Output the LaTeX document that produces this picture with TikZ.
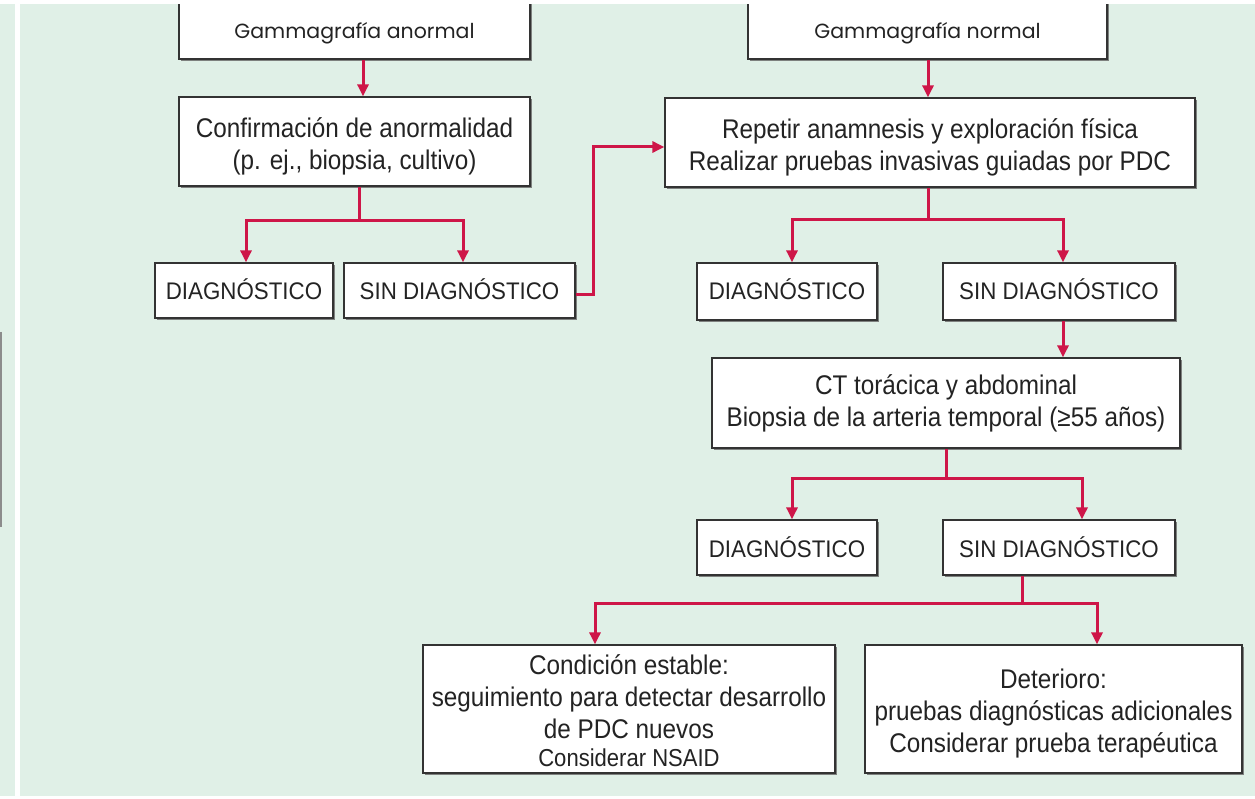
\documentclass[tikz,border=0pt]{standalone}
\usepackage{fontspec}
\setmainfont{Liberation Sans}
\newfontfamily\narrow[FakeStretch=0.9]{Liberation Sans}
\newfontfamily\narrowc[FakeStretch=0.93]{Liberation Sans}
\newfontfamily\geo{Poppins}
\usetikzlibrary{arrows.meta,shadows,calc}
\definecolor{bgg}{RGB}{224,240,231}
\definecolor{crim}{RGB}{206,22,72}
\definecolor{txt}{RGB}{35,35,35}
\newcommand\dnshift[2]{\raisebox{-#1}[\height][\depth]{\begin{tabular}{@{}c@{}}#2\end{tabular}}}
\tikzset{
  box/.style={draw=black!80, line width=1.3pt, fill=white, inner sep=0pt, align=center, text=txt,
    drop shadow={shadow xshift=2pt, shadow yshift=-2.2pt, fill=black!60, opacity=0.8}},
  lc/.style={font=\narrow\fontsize{27}{32}\selectfont},
  cp/.style={font=\narrowc\fontsize{24}{28}\selectfont},
  gf/.style={font=\geo\fontsize{20.5}{24}\selectfont},
  wire/.style={draw=crim, line width=3pt},
  conn/.style={wire, -{Triangle[length=12pt,width=11pt]}},
}
\begin{document}
\begin{tikzpicture}[x=1pt,y=-1pt]
\useasboundingbox (0,0) rectangle (1255,799);
\clip (0,0) rectangle (1255,799);
% background
\fill[bgg] (0,0) rectangle (1255,799);
\fill[white] (15,0) rectangle (20,799);
\draw[black!45, line width=1.5pt] (1,332) -- (1,527);

% nodes
\node[box, gf, minimum width=351pt, minimum height=57pt] (g1) at (354.5,30.5) {\dnshift{3pt}{Gammagrafía anormal}};
\node[box, lc, minimum width=351pt, minimum height=89pt] (conf) at (354.5,141.5) {\dnshift{6pt}{Confirmación de anormalidad\\(p. ej., biopsia, cultivo)}};
\node[box, cp, minimum width=178pt, minimum height=55pt] (d1) at (244,290.5) {\dnshift{3pt}{DIAGNÓSTICO}};
\node[box, cp, minimum width=231pt, minimum height=55pt] (s1) at (459.5,290.5) {\dnshift{3pt}{SIN DIAGNÓSTICO}};

\node[box, gf, minimum width=359pt, minimum height=57pt] (g2) at (927.5,30.5) {\dnshift{3pt}{Gammagrafía normal}};
\node[box, lc, minimum width=530pt, minimum height=89pt] (rep) at (930,142.5) {\dnshift{6pt}{Repetir anamnesis y exploración física\\Realizar pruebas invasivas guiadas por PDC}};
\node[box, cp, minimum width=180pt, minimum height=57pt] (d2) at (787,291.5) {\dnshift{2pt}{DIAGNÓSTICO}};
\node[box, cp, minimum width=232pt, minimum height=57pt] (s2) at (1059,291.5) {\dnshift{2pt}{SIN DIAGNÓSTICO}};
\node[box, lc, minimum width=468pt, minimum height=90pt] (ct) at (946,403) {\dnshift{1pt}{CT torácica y abdominal\\Biopsia de la arteria temporal (≥55 años)}};
\node[box, cp, minimum width=180pt, minimum height=55pt] (d3) at (787,547.5) {DIAGNÓSTICO};
\node[box, cp, minimum width=232pt, minimum height=55pt] (s3) at (1059,547.5) {SIN DIAGNÓSTICO};
\node[box, lc, minimum width=412pt, minimum height=128pt] (cond) at (629,709) {\dnshift{5pt}{Condición estable:\\seguimiento para detectar desarrollo\\de PDC nuevos\\[-4pt]{\fontsize{24.5}{28}\selectfont Considerar NSAID}}};
\node[box, lc, minimum width=377pt, minimum height=128pt] (det) at (1053.5,709) {\dnshift{5pt}{Deterioro:\\pruebas diagnósticas adicionales\\Considerar prueba terapéutica}};

% white bands (hide the top border of the first boxes)
\fill[white] (0,0) rectangle (1255,4.5);
\fill[white] (0,795.5) rectangle (1255,799);

% connectors
\draw[conn] (g1.south -| 363,0) -- (conf.north -| 363,0);
\coordinate (j1) at (359,221);
\draw[wire] (conf.south -| j1) -- (j1);
\draw[conn] (j1) -| (d1.north -| 246,0);
\draw[conn] (j1) -| (s1.north -| 463,0);
\draw[conn] (s1.east |- 0,295) -| (593,147) -- (rep.west |- 0,147);

\draw[conn] (g2.south -| 928,0) -- (rep.north -| 928,0);
\coordinate (j2) at (928,220);
\draw[wire] (rep.south -| j2) -- (j2);
\draw[conn] (j2) -| (d2.north -| 792,0);
\draw[conn] (j2) -| (s2.north -| 1063,0);
\draw[conn] (s2.south -| 1063,0) -- (ct.north -| 1063,0);
\coordinate (j3) at (946,478);
\draw[wire] (ct.south -| j3) -- (j3);
\draw[conn] (j3) -| (d3.north -| 792,0);
\draw[conn] (j3) -| (s3.north -| 1082,0);
\coordinate (j4) at (1022,603);
\draw[wire] (s3.south -| j4) -- (j4);
\draw[conn] (j4) -| (cond.north -| 595,0);
\draw[conn] (j4) -| (det.north -| 1097,0);
\end{tikzpicture}
\end{document}
